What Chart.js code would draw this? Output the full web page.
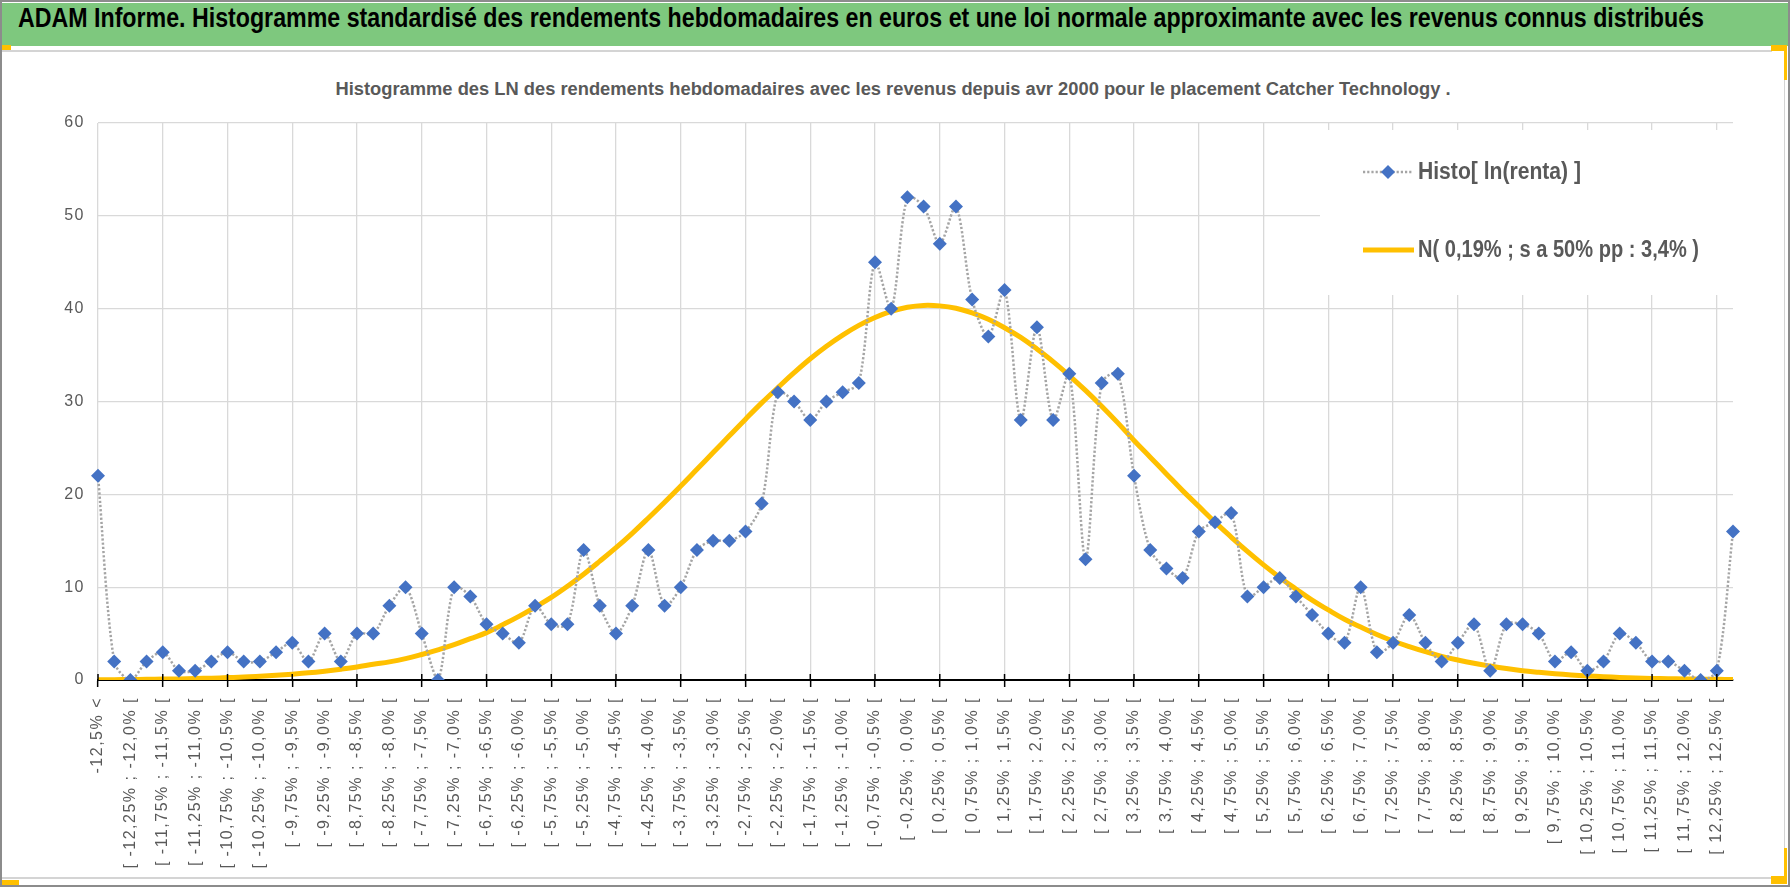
<!DOCTYPE html>
<html>
<head>
<meta charset="utf-8">
<script src="https://cdn.jsdelivr.net/npm/chart.js@4.4.1/dist/chart.umd.min.js"></script>
<style>
html, body { margin: 0; padding: 0; background: #fff; }
#page { position: relative; width: 1790px; height: 887px; overflow: hidden; background: #fff; }
#frame { position: absolute; left: 0; top: 0; width: 1790px; height: 887px; box-sizing: border-box; border: 2px solid #8c8c8c; }
#bar { position: absolute; left: 2px; top: 3px; width: 1786px; height: 43px; background: #7ec87e; }
#bar h1 { margin: 0; position: absolute; left: 16px; top: 0; line-height: 43px; font: bold 27px "Liberation Sans", Arial, sans-serif; color: #000; white-space: nowrap; transform-origin: left center; }
#sub { position: absolute; left: 2px; width: 1782px; top: 78px; line-height: 24px; text-align: center; white-space: nowrap; }
#sub span { display: inline-block; font: bold 18px "Liberation Sans", Arial, sans-serif; color: #595959; transform-origin: center center; }
.ln { position: absolute; background: #d4d4d4; }
.yl { position: absolute; background: #ffc000; }
#wrap { position: absolute; left: 2px; top: 53px; width: 1782px; height: 823px; }
</style>
</head>
<body>
<div id="page">
  <div id="bar"><h1 id="title">ADAM Informe. Histogramme standardisé des rendements hebdomadaires en euros et une loi normale approximante avec les revenus connus distribués</h1></div>
  <div class="ln" style="left:2px;top:50px;width:1770px;height:2px"></div>
  <div class="ln" style="left:1784px;top:52px;width:1px;height:825px"></div>
  <div class="ln" style="left:0;top:877px;width:1785px;height:2px"></div>
  <div class="yl" style="left:0;top:45px;width:11px;height:5px"></div>
  <div class="yl" style="left:1771px;top:45px;width:16px;height:6px"></div>
  <div class="yl" style="left:1784px;top:45px;width:3px;height:35px"></div>
  <div class="yl" style="left:0;top:880px;width:19px;height:5px"></div>
  <div class="yl" style="left:1771px;top:876px;width:16px;height:8px"></div>
  <div class="yl" style="left:1784px;top:848px;width:3px;height:36px"></div>
  <div id="sub"><span id="subtitle">Histogramme des LN des rendements hebdomadaires avec les revenus depuis avr 2000 pour le placement Catcher Technology .</span></div>
  <div id="wrap"><canvas id="chart"></canvas></div>
  <div id="frame"></div>
</div>
<script>
// classes de rendement (102 : deux queues + 100 tranches de 0,25%)
const categories = [
  "-12,5% <",
  "[ -12,5% ; -12,25% [", "[ -12,25% ; -12,0% [", "[ -12,0% ; -11,75% [", "[ -11,75% ; -11,5% [",
  "[ -11,5% ; -11,25% [", "[ -11,25% ; -11,0% [", "[ -11,0% ; -10,75% [", "[ -10,75% ; -10,5% [",
  "[ -10,5% ; -10,25% [", "[ -10,25% ; -10,0% [", "[ -10,0% ; -9,75% [", "[ -9,75% ; -9,5% [",
  "[ -9,5% ; -9,25% [", "[ -9,25% ; -9,0% [", "[ -9,0% ; -8,75% [", "[ -8,75% ; -8,5% [",
  "[ -8,5% ; -8,25% [", "[ -8,25% ; -8,0% [", "[ -8,0% ; -7,75% [", "[ -7,75% ; -7,5% [",
  "[ -7,5% ; -7,25% [", "[ -7,25% ; -7,0% [", "[ -7,0% ; -6,75% [", "[ -6,75% ; -6,5% [",
  "[ -6,5% ; -6,25% [", "[ -6,25% ; -6,0% [", "[ -6,0% ; -5,75% [", "[ -5,75% ; -5,5% [",
  "[ -5,5% ; -5,25% [", "[ -5,25% ; -5,0% [", "[ -5,0% ; -4,75% [", "[ -4,75% ; -4,5% [",
  "[ -4,5% ; -4,25% [", "[ -4,25% ; -4,0% [", "[ -4,0% ; -3,75% [", "[ -3,75% ; -3,5% [",
  "[ -3,5% ; -3,25% [", "[ -3,25% ; -3,0% [", "[ -3,0% ; -2,75% [", "[ -2,75% ; -2,5% [",
  "[ -2,5% ; -2,25% [", "[ -2,25% ; -2,0% [", "[ -2,0% ; -1,75% [", "[ -1,75% ; -1,5% [",
  "[ -1,5% ; -1,25% [", "[ -1,25% ; -1,0% [", "[ -1,0% ; -0,75% [", "[ -0,75% ; -0,5% [",
  "[ -0,5% ; -0,25% [", "[ -0,25% ; 0,0% [", "[ 0,0% ; 0,25% [", "[ 0,25% ; 0,5% [",
  "[ 0,5% ; 0,75% [", "[ 0,75% ; 1,0% [", "[ 1,0% ; 1,25% [", "[ 1,25% ; 1,5% [",
  "[ 1,5% ; 1,75% [", "[ 1,75% ; 2,0% [", "[ 2,0% ; 2,25% [", "[ 2,25% ; 2,5% [",
  "[ 2,5% ; 2,75% [", "[ 2,75% ; 3,0% [", "[ 3,0% ; 3,25% [", "[ 3,25% ; 3,5% [",
  "[ 3,5% ; 3,75% [", "[ 3,75% ; 4,0% [", "[ 4,0% ; 4,25% [", "[ 4,25% ; 4,5% [",
  "[ 4,5% ; 4,75% [", "[ 4,75% ; 5,0% [", "[ 5,0% ; 5,25% [", "[ 5,25% ; 5,5% [",
  "[ 5,5% ; 5,75% [", "[ 5,75% ; 6,0% [", "[ 6,0% ; 6,25% [", "[ 6,25% ; 6,5% [",
  "[ 6,5% ; 6,75% [", "[ 6,75% ; 7,0% [", "[ 7,0% ; 7,25% [", "[ 7,25% ; 7,5% [",
  "[ 7,5% ; 7,75% [", "[ 7,75% ; 8,0% [", "[ 8,0% ; 8,25% [", "[ 8,25% ; 8,5% [",
  "[ 8,5% ; 8,75% [", "[ 8,75% ; 9,0% [", "[ 9,0% ; 9,25% [", "[ 9,25% ; 9,5% [",
  "[ 9,5% ; 9,75% [", "[ 9,75% ; 10,0% [", "[ 10,0% ; 10,25% [", "[ 10,25% ; 10,5% [",
  "[ 10,5% ; 10,75% [", "[ 10,75% ; 11,0% [", "[ 11,0% ; 11,25% [", "[ 11,25% ; 11,5% [",
  "[ 11,5% ; 11,75% [", "[ 11,75% ; 12,0% [", "[ 12,0% ; 12,25% [", "[ 12,25% ; 12,5% [",
  "> 12,5%"
];

// nombre de semaines par classe
const histo = [
  22, 2, 0, 2, 3, 1, 1, 2, 3, 2,
  2, 3, 4, 2, 5, 2, 5, 5, 8, 10,
  5, 0, 10, 9, 6, 5, 4, 8, 6, 6,
  14, 8, 5, 8, 14, 8, 10, 14, 15, 15,
  16, 19, 31, 30, 28, 30, 31, 32, 45, 40,
  52, 51, 47, 51, 41, 37, 42, 28, 38, 28,
  33, 13, 32, 33, 22, 14, 12, 11, 16, 17,
  18, 9, 10, 11, 9, 7, 5, 4, 10, 3,
  4, 7, 4, 2, 4, 6, 1, 6, 6, 5,
  2, 3, 1, 2, 5, 4, 2, 2, 1, 0,
  1, 16
];

// loi normale
const normale = [
  0.03, 0.04, 0.06, 0.07, 0.10, 0.12, 0.16, 0.20, 0.26, 0.32,
  0.41, 0.51, 0.63, 0.77, 0.95, 1.16, 1.40, 1.69, 1.95, 2.3,
  2.75, 3.25, 3.8, 4.45, 5.1, 5.95, 6.85, 7.85, 8.9, 10.1,
  11.4, 12.8, 14.25, 15.8, 17.45, 19.15, 20.9, 22.7, 24.5, 26.3,
  28.1, 29.85, 31.5, 33.1, 34.6, 35.95, 37.15, 38.2, 39.05, 39.7,
  40.15, 40.35, 40.3, 40.05, 39.55, 38.85, 37.95, 36.9, 35.65, 34.3,
  32.8, 31.2, 29.5, 27.7, 25.8, 24.0, 22.2, 20.4, 18.7, 17.0,
  15.4, 13.85, 12.4, 11.05, 9.8, 8.6, 7.55, 6.55, 5.7, 4.9,
  4.2, 3.6, 3.05, 2.55, 2.15, 1.8, 1.5, 1.23, 1.0, 0.83,
  0.68, 0.55, 0.44, 0.35, 0.28, 0.22, 0.17, 0.14, 0.11, 0.09,
  0.07, 0.05
];

const legendLabels = ["Histo[ ln(renta) ]", "N( 0,19% ; s a 50% pp : 3,4% )"];

const BLUE = '#4472c4', DOTS = '#a5a5a5', GOLD = '#ffc000', GRID = '#d9d9d9', TXT = '#595959';

// textes HTML condensés à la largeur de l'original
function squeeze(el, width) {
  const w = el.getBoundingClientRect().width;
  el.style.transform = 'scaleX(' + (width / w) + ')';
}
squeeze(document.getElementById('title'), 1686);
squeeze(document.getElementById('subtitle'), 1115);

const excelLegend = {
  id: 'excelLegend',
  beforeDraw(chart) {
    chart.ctx.letterSpacing = '1.5px';
  },
  beforeDatasetsDraw(chart) {
    const c = chart.ctx;
    c.save();
    c.fillStyle = '#fff';
    c.fillRect(1318, 77, 430, 165);
    c.restore();
  },
  afterDraw(chart) {
    const c = chart.ctx;
    c.save();
    c.letterSpacing = '0px';
    // petits traits au-dessus de l'axe
    const xs = chart.scales.x, bottom = chart.chartArea.bottom;
    c.strokeStyle = '#000';
    c.lineWidth = 1.5;
    for (let i = 0; i < categories.length; i += 4) {
      const px = xs.getPixelForValue(i);
      c.beginPath(); c.moveTo(px, bottom - 6); c.lineTo(px, bottom); c.stroke();
    }
    // légende
    c.lineWidth = 2.5;
    c.strokeStyle = DOTS;
    c.setLineDash([2.2, 2]);
    c.beginPath(); c.moveTo(1361, 119); c.lineTo(1410, 119); c.stroke();
    c.setLineDash([]);
    c.fillStyle = BLUE;
    c.beginPath();
    c.moveTo(1379, 119); c.lineTo(1386, 112); c.lineTo(1393, 119); c.lineTo(1386, 126);
    c.closePath(); c.fill();
    c.strokeStyle = GOLD;
    c.lineWidth = 5;
    c.beginPath(); c.moveTo(1361, 197); c.lineTo(1412, 197); c.stroke();
    c.fillStyle = TXT;
    c.font = 'bold 23px "Liberation Sans", Arial, sans-serif';
    c.textBaseline = 'middle';
    c.textAlign = 'left';
    c.fillText(legendLabels[0], 1416, 120, 163);
    c.fillText(legendLabels[1], 1416, 198, 281);
    c.restore();
  }
};

new Chart(document.getElementById('chart'), {
  type: 'line',
  data: {
    labels: categories,
    datasets: [
      {
        label: legendLabels[0],
        data: histo,
        order: 0,
        borderColor: DOTS,
        borderWidth: 2.5,
        borderDash: [2.2, 2],
        tension: 0.3,
        pointStyle: 'rectRot',
        pointRadius: 7,
        pointBackgroundColor: BLUE,
        pointBorderColor: BLUE,
        pointBorderWidth: 0
      },
      {
        label: legendLabels[1],
        data: normale,
        order: 1,
        borderColor: GOLD,
        borderWidth: 5,
        tension: 0.4,
        pointRadius: 0
      }
    ]
  },
  options: {
    responsive: true,
    maintainAspectRatio: false,
    animation: false,
    events: [],
    layout: { padding: { top: 70, right: 51, bottom: 0, left: 0 } },
    plugins: {
      legend: { display: false },
      title: { display: false },
      tooltip: { enabled: false }
    },
    scales: {
      x: {
        offset: false,
        grid: {
          color: ctx => ctx.index % 4 === 0 ? GRID : 'rgba(0,0,0,0)',
          lineWidth: 1.3,
          tickColor: ctx => ctx.index % 4 === 0 ? '#000' : 'rgba(0,0,0,0)',
          tickLength: 7,
          tickWidth: 1.5
        },
        border: { color: '#000', width: 2 },
        ticks: {
          autoSkip: false,
          minRotation: 90,
          maxRotation: 90,
          padding: 10,
          color: TXT,
          font: { family: 'Liberation Sans', size: 16 },
          callback(v, i) { return i % 2 === 0 ? this.getLabelForValue(v) : ''; }
        },
        afterFit(s) { s.height = 196; }
      },
      y: {
        min: 0,
        max: 60,
        grid: { color: GRID, lineWidth: 1.3, drawTicks: false },
        border: { display: false },
        ticks: {
          stepSize: 10,
          padding: 13,
          color: TXT,
          font: { family: 'Liberation Sans', size: 16 }
        },
        afterFit(s) { s.width = 96; }
      }
    }
  },
  plugins: [excelLegend]
});
</script>
</body>
</html>
